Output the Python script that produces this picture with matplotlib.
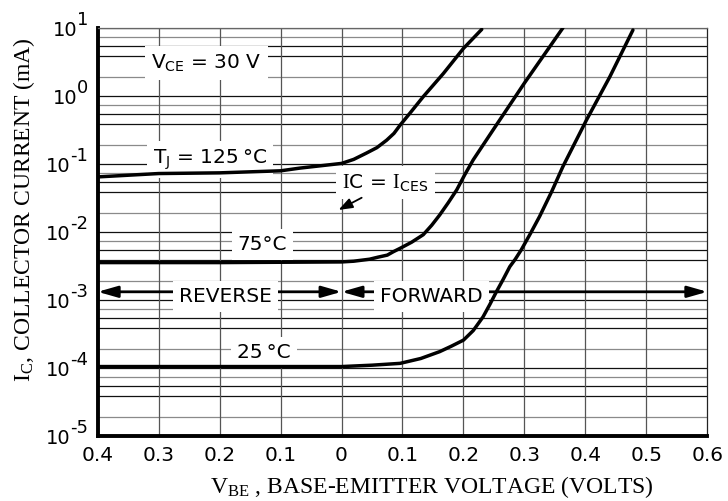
import matplotlib
matplotlib.use("Agg")
import matplotlib.pyplot as plt
import numpy as np

plt.rcParams['font.family'] = ['DejaVu Sans']
plt.rcParams['mathtext.fontset'] = 'custom'
plt.rcParams['mathtext.rm'] = 'Liberation Serif'
plt.rcParams['mathtext.sf'] = 'DejaVu Sans'
plt.rcParams['mathtext.it'] = 'Liberation Serif:italic'

# ---- data (V_BE in volts, negative = reverse; I_C in mA) ----
vbe_125 = [-0.4, -0.3, -0.2, -0.1, -0.068, 0.0, 0.02, 0.041, 0.058, 0.074, 0.086, 0.096,
           0.115, 0.134, 0.167, 0.2, 0.23]
ic_125 = [0.0646, 0.0724, 0.0741, 0.0794, 0.0871, 0.102, 0.117, 0.145, 0.174, 0.224, 0.282, 0.372,
          0.60, 0.977, 2.14, 5.01, 9.55]

vbe_75 = [-0.4, -0.2, 0.0, 0.02, 0.046, 0.06, 0.075, 0.085, 0.096, 0.115, 0.134, 0.148, 0.161,
          0.175, 0.189, 0.202, 0.216, 0.25, 0.3, 0.363]
ic_75 = [0.00355, 0.00355, 0.00363, 0.00372, 0.00398, 0.00427, 0.00457, 0.00513, 0.00575, 0.00708,
         0.00912, 0.0126, 0.0178, 0.0269, 0.0417, 0.0692, 0.115, 0.331, 1.55, 10.0]

vbe_25 = [-0.4, 0.0, 0.05, 0.096, 0.13, 0.161, 0.18, 0.2, 0.216, 0.232, 0.243, 0.254, 0.265, 0.276,
          0.285, 0.295, 0.31, 0.325, 0.345, 0.363, 0.402, 0.44, 0.478]
ic_25 = [1.05e-4, 1.05e-4, 1.10e-4, 1.17e-4, 1.38e-4, 1.74e-4, 2.09e-4, 2.57e-4, 3.55e-4, 5.62e-4,
         8.51e-4, 1.32e-3, 2.0e-3, 3.09e-3, 3.98e-3, 5.50e-3, 9.55e-3, 1.70e-2, 3.98e-2, 9.12e-2,
         0.447, 1.91, 9.33]

x_ticks = [-0.4, -0.3, -0.2, -0.1, 0.0, 0.1, 0.2, 0.3, 0.4, 0.5, 0.6]
x_tick_labels = ["0.4", "0.3", "0.2", "0.1", "0", "0.1", "0.2", "0.3", "0.4", "0.5", "0.6"]
decades = [-5, -4, -3, -2, -1, 0, 1]
minor_mult = [1.9, 3.9, 5.4, 7.25]
minor_colors = ['#8a8a8a', '#111111', '#111111', '#8a8a8a']

fig = plt.figure(figsize=(7.28, 5.01), dpi=100)
ax = fig.add_axes([97.7 / 728, 65 / 501, 609.6 / 728, 408 / 501])
ax.set_yscale('log')
ax.set_xlim(-0.4, 0.6)
ax.set_ylim(1e-5, 1e1)

# grid
for d in decades:
    ax.axhline(10.0 ** d, color='#111111', lw=0.9, zorder=0.5)
    if d < 1:
        for m, c in zip(minor_mult, minor_colors):
            ax.axhline(m * 10.0 ** d, color=c, lw=0.9, zorder=0.5)
for xv in x_ticks[1:-1]:
    ax.axvline(xv, color='#555555', lw=0.9, zorder=0.5)

# curves
for xs, ys in [(vbe_125, ic_125), (vbe_75, ic_75), (vbe_25, ic_25)]:
    ax.plot(xs, ys, color='black', lw=2.5, solid_capstyle='round', solid_joinstyle='round', zorder=4)

# spines
for s in ['left', 'bottom']:
    ax.spines[s].set_linewidth(2.8)
    ax.spines[s].set_color('black')
ax.spines['top'].set_linewidth(0.9)
ax.spines['top'].set_color('#666666')
ax.spines['right'].set_linewidth(0.9)
ax.spines['right'].set_color('#222222')

ax.set_xticks(x_ticks)
ax.set_xticklabels(x_tick_labels, fontsize=14.5)
ax.tick_params(axis='x', length=0, pad=7)
ax.set_yticks([10.0 ** d for d in decades])
ax.set_yticklabels([])
ax.yaxis.set_minor_locator(matplotlib.ticker.NullLocator())
ax.tick_params(axis='y', length=0)

# y tick labels: "10" with raised exponent
for d in decades:
    e = ax.annotate(f"{d}", xy=(0, 10.0 ** d), xycoords=('axes fraction', 'data'),
                    xytext=(-7, 2.5), textcoords='offset points', ha='right', va='baseline',
                    fontsize=13)
    ax.annotate("10", xy=(0, 10.0 ** d), xycoords=(e, 'data'),
                xytext=(0.5, -5.5), textcoords='offset points', ha='right', va='baseline',
                fontsize=14)

# axis labels
ax.set_xlabel(r"$\mathrm{V_{BE}}$ , BASE-EMITTER VOLTAGE (VOLTS)", family='Liberation Serif',
              fontsize=17)
ax.xaxis.set_label_coords(0.548, -0.093)
ax.set_ylabel(r"$\mathrm{I_C}$, COLLECTOR CURRENT (mA)", family='Liberation Serif', fontsize=17)
ax.yaxis.set_label_coords(-0.1, 0.556)

box = dict(boxstyle='square,pad=0.3', fc='white', ec='none')
fs = 14.5
ax.text(-0.222, 2.55, r"$\mathsf{V_{CE}}$ = 30 V", fontsize=fs, ha='center', va='baseline', bbox=box, zorder=2)
ax.text(-0.216, 0.102, "$\\mathsf{T_{J}}$ = 125\u2009°C", fontsize=fs, ha='center', va='baseline', bbox=box, zorder=2)
ax.text(0.072, 0.044, r"$\mathrm{I}$C = $\mathrm{I}_{\mathsf{CES}}$", fontsize=fs, ha='center', va='baseline', bbox=box, zorder=2)
ax.text(-0.130, 0.00544, "75°C", fontsize=fs, ha='center', va='baseline', bbox=box, zorder=2)
ax.text(-0.127, 1.39e-4, "25\u2009°C", fontsize=fs, ha='center', va='baseline', bbox=box, zorder=2)

# IC = ICES pointer
ax.annotate("", xy=(-0.005, 0.0211), xytext=(0.033, 0.0319),
            arrowprops=dict(arrowstyle='-|>,head_length=0.6,head_width=0.22', color='black', lw=1.3,
                            shrinkA=0, shrinkB=0, mutation_scale=14), zorder=3)

# reverse / forward arrows
arrow_y = 1.32e-3
ap = dict(arrowstyle='<|-|>,head_length=0.7,head_width=0.2', color='black', lw=2.0,
          shrinkA=0, shrinkB=0, mutation_scale=17)
ax.annotate("", xy=(-0.4, arrow_y), xytext=(0.0, arrow_y), arrowprops=ap, zorder=1.5)
ax.annotate("", xy=(0.0, arrow_y), xytext=(0.6, arrow_y), arrowprops=ap, zorder=1.5)
ax.text(-0.191, 9.4e-4, "REVERSE", fontsize=fs, ha='center', va='baseline', bbox=box, zorder=2)
ax.text(0.147, 9.4e-4, "FORWARD", fontsize=fs, ha='center', va='baseline', bbox=box, zorder=2)

fig.savefig("out.png", dpi=100)
